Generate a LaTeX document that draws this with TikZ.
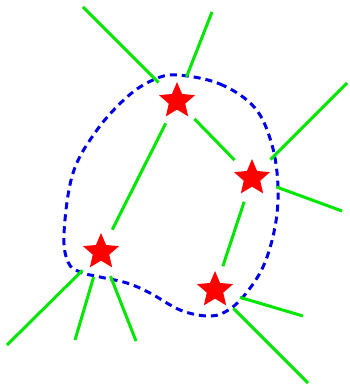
\documentclass[tikz,border=0pt]{standalone}
\usepackage{tikz}
\usetikzlibrary{shapes.geometric}
\definecolor{linkgreen}{RGB}{0,230,0}
\definecolor{hullblue}{RGB}{0,0,230}

\begin{document}
\begin{tikzpicture}[
    x=1pt, y=-1pt,
    site/.style={star, star points=5, star point ratio=2.2, minimum size=38pt, inner sep=0pt, fill=red},
    link/.style={linkgreen, line width=3pt, shorten <=25pt, shorten >=25pt},
    spoke/.style={linkgreen, line width=3pt, shorten <=26pt},
    hull/.style={hullblue, line width=3pt, dash pattern=on 7pt off 5pt}
]
\useasboundingbox (0,0) rectangle (349,385);
\draw[hull] plot[smooth cycle, tension=0.6] coordinates {
    (177,75) (220,84) (255,108) (272,145) (278,187) (275,227) (263,267)
    (243,297) (225,312) (207,316) (180,310) (150,293) (127,283) (100,277)
    (80,272) (68,262) (64,233) (73,173) (97,130) (127,97) (153,80)};
\node[site] (a) at (177,101) {};
\node[site] (b) at (252,178) {};
\node[site] (c) at (101,252) {};
\node[site] (d) at (215,290) {};
\coordinate (a1) at (83,7);
\coordinate (a2) at (212,12);
\coordinate (b1) at (347,83);
\coordinate (b2) at (342,211);
\coordinate (c1) at (7,345);
\coordinate (c2) at (75,340);
\coordinate (c3) at (136,341);
\coordinate (d1) at (303,316);
\coordinate (d2) at (308,383);
\draw[link] (a.center) -- (c.center);
\draw[link] (a.center) -- (b.center);
\draw[link] (b.center) -- (d.center);
\foreach \s/\p in {a/a1, a/a2, b/b1, b/b2, c/c1, c/c2, c/c3, d/d1, d/d2}
    \draw[spoke] (\s.center) -- (\p);
\end{tikzpicture}
\end{document}
